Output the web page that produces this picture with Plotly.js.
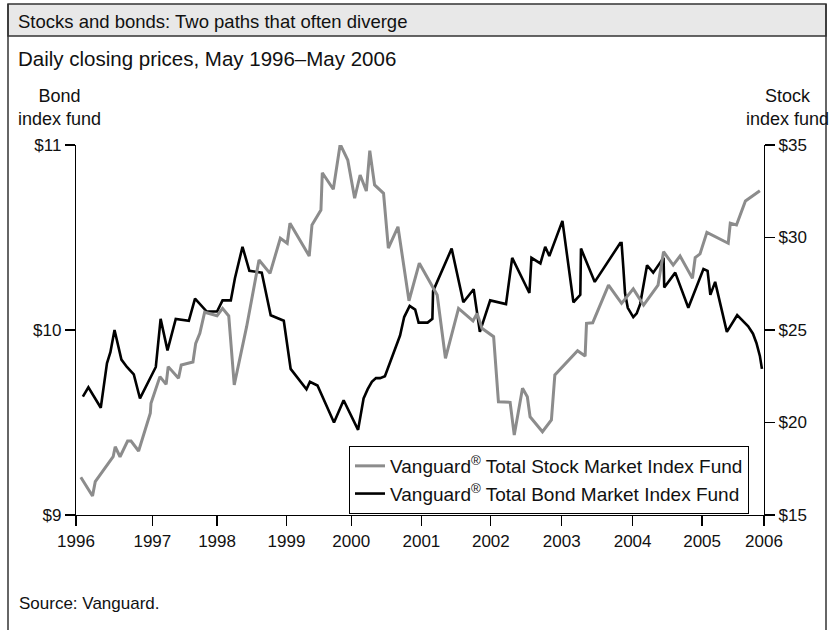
<!DOCTYPE html>
<html>
<head>
<meta charset="utf-8">
<script src="https://cdn.plot.ly/plotly-3.0.1.min.js"></script>
<style>
  html, body { margin: 0; padding: 0; background: #fff; }
  #chart { width: 833px; height: 630px; }
</style>
</head>
<body>
<div id="chart"></div>
<script>
// Stock vs bond index fund prices.
const FONT = '"Liberation Sans Narrow", "Arial Narrow", "Liberation Sans", sans-serif';

const xTickVals = [1996, 1997.11, 1998.05, 1999.06, 2000.0, 2001.02, 2002.03, 2003.06, 2004.09, 2005.10, 2006];
const xTickText = ['1996', '1997', '1998', '1999', '2000', '2001', '2002', '2003', '2004', '2005', '2006'];

const bondTickVals = [9, 10, 11];
const bondTickText = ['$9', '$10', '$11'];
const stockTickVals = [15, 20, 25, 30, 35];
const stockTickText = ['$15', '$20', '$25', '$30', '$35'];

// Vanguard Total Stock Market Index Fund (right axis)
const stockX = [
  1996.07, 1996.24, 1996.28, 1996.54, 1996.57, 1996.64, 1996.75, 1996.80, 1996.91, 1997.08,
  1997.09, 1997.18, 1997.22, 1997.31, 1997.34, 1997.49, 1997.53, 1997.70, 1997.74, 1997.80,
  1997.87, 1998.05, 1998.13, 1998.22, 1998.30, 1998.48, 1998.66, 1998.82, 1998.97, 1999.07,
  1999.11, 1999.39, 1999.43, 1999.56, 1999.58, 1999.74, 1999.84, 1999.95, 2000.05, 2000.13,
  2000.22, 2000.27, 2000.34, 2000.47, 2000.54, 2000.68, 2000.84, 2000.99, 2001.25, 2001.37,
  2001.56, 2001.77, 2001.83, 2001.90, 2002.07, 2002.14, 2002.31, 2002.37, 2002.49, 2002.56,
  2002.60, 2002.78, 2002.91, 2002.96, 2003.29, 2003.40, 2003.42, 2003.51, 2003.74, 2003.93,
  2004.10, 2004.25, 2004.46, 2004.54, 2004.68, 2004.78, 2004.96, 2005.00, 2005.07, 2005.17,
  2005.48, 2005.51, 2005.60, 2005.73, 2005.94
];
const stockY = [
  17.04, 16.03, 16.80, 18.15, 18.69, 18.15, 19.00, 19.00, 18.46, 20.50,
  21.04, 22.12, 22.48, 22.06, 23.02, 22.39, 23.11, 23.27, 24.28, 24.82,
  25.96, 25.77, 26.17, 25.76, 22.03, 25.18, 28.78, 28.06, 29.96, 29.69,
  30.77, 29.00, 30.68, 31.49, 33.50, 32.61, 35.04, 34.19, 32.12, 33.38,
  32.51, 34.69, 32.84, 32.39, 29.42, 30.58, 26.58, 28.61, 26.89, 23.47,
  26.17, 25.49, 25.90, 25.09, 24.64, 21.12, 21.09, 19.32, 21.85, 21.39,
  20.31, 19.50, 20.14, 22.57, 23.88, 23.59, 25.36, 25.39, 27.43, 26.44,
  27.22, 26.35, 27.43, 29.23, 28.51, 29.00, 27.79, 28.91, 29.11, 30.28,
  29.69, 30.77, 30.68, 31.97, 32.53
];

// Vanguard Total Bond Market Index Fund (left axis)
const bondX = [
  1996.10, 1996.18, 1996.36, 1996.45, 1996.50, 1996.56, 1996.66, 1996.74, 1996.84, 1996.93,
  1997.16, 1997.23, 1997.33, 1997.45, 1997.64, 1997.73, 1997.90, 1998.05, 1998.13, 1998.25,
  1998.31, 1998.42, 1998.52, 1998.70, 1998.83, 1999.02, 1999.12, 1999.35, 1999.40, 1999.51,
  1999.75, 1999.89, 2000.10, 2000.18, 2000.24, 2000.30, 2000.36, 2000.42, 2000.49, 2000.71,
  2000.77, 2000.85, 2000.93, 2000.98, 2001.11, 2001.18, 2001.19, 2001.46, 2001.63, 2001.78,
  2001.87, 2002.02, 2002.25, 2002.34, 2002.59, 2002.62, 2002.75, 2002.82, 2002.88, 2003.07,
  2003.23, 2003.33, 2003.34, 2003.54, 2003.91, 2003.93, 2003.955, 2003.98, 2004.02, 2004.10,
  2004.15, 2004.20, 2004.30, 2004.39, 2004.54, 2004.55, 2004.71, 2004.90, 2005.12, 2005.18,
  2005.22, 2005.29, 2005.46, 2005.61, 2005.77, 2005.84, 2005.89, 2005.94, 2005.97
];
const bondY = [
  9.64, 9.69, 9.58, 9.82, 9.88, 10.00, 9.84, 9.80, 9.76, 9.63,
  9.80, 10.06, 9.89, 10.06, 10.05, 10.17, 10.10, 10.10, 10.16, 10.16,
  10.28, 10.45, 10.32, 10.31, 10.08, 10.05, 9.79, 9.68, 9.72, 9.70,
  9.50, 9.62, 9.46, 9.63, 9.68, 9.72, 9.74, 9.74, 9.75, 9.97,
  10.07, 10.13, 10.11, 10.04, 10.04, 10.06, 10.21, 10.44, 10.15, 10.22,
  9.99, 10.16, 10.14, 10.39, 10.20, 10.39, 10.36, 10.45, 10.40, 10.59,
  10.15, 10.19, 10.44, 10.26, 10.47, 10.47, 10.34, 10.20, 10.12, 10.07,
  10.09, 10.14, 10.35, 10.31, 10.39, 10.23, 10.31, 10.12, 10.33, 10.32,
  10.19, 10.26, 9.99, 10.08, 10.02, 9.98, 9.93, 9.86, 9.79
];

const W = 833, H = 630;
const M = { l: 76, r: 69, t: 145, b: 115 };
// pixel -> paper helpers for the frame and free text
const px = (x) => (x - M.l) / (W - M.l - M.r);
const py = (y) => (H - M.b - y) / (H - M.t - M.b);

const traces = [
  {
    x: stockX, y: stockY, yaxis: 'y2', mode: 'lines',
    name: 'Vanguard<sup>®</sup> Total Stock Market Index Fund',
    line: { color: '#8c8c8c', width: 3 },
  },
  {
    x: bondX, y: bondY, yaxis: 'y', mode: 'lines',
    name: 'Vanguard<sup>®</sup> Total Bond Market Index Fund',
    line: { color: '#000000', width: 2.6 },
  },
];

const axisCommon = {
  showline: true, linecolor: '#000', linewidth: 1.2,
  ticks: 'outside', tickcolor: '#000', tickwidth: 1.2,
  showgrid: false, zeroline: false, fixedrange: true,
  tickfont: { family: FONT, size: 17, color: '#111' },
};

const layout = {
  width: W, height: H,
  margin: M,
  paper_bgcolor: '#fff', plot_bgcolor: '#fff',
  font: { family: FONT, color: '#111' },
  xaxis: Object.assign({}, axisCommon, {
    range: [1996, 2006], tickvals: xTickVals, ticktext: xTickText, ticklen: 10,
  }),
  yaxis: Object.assign({}, axisCommon, {
    range: [9, 11], tickvals: bondTickVals, ticktext: bondTickText, ticklen: 10,
  }),
  yaxis2: Object.assign({}, axisCommon, {
    range: [15, 35], tickvals: stockTickVals, ticktext: stockTickText, ticklen: 10,
    overlaying: 'y', side: 'right',
  }),
  showlegend: true,
  legend: {
    x: px(349), y: py(446), xanchor: 'left', yanchor: 'top',
    bgcolor: '#fff', bordercolor: '#000', borderwidth: 1,
    font: { family: FONT, size: 19, color: '#111' },
    itemwidth: 30, tracegroupgap: 0,
  },
  shapes: [
    // title band
    { type: 'rect', xref: 'paper', yref: 'paper', x0: px(8), x1: px(826), y0: py(36), y1: py(4),
      fillcolor: '#e8e8e8', line: { color: '#333', width: 1.5 }, layer: 'below' },
    // outer frame sides
    { type: 'line', xref: 'paper', yref: 'paper', x0: px(8), x1: px(8), y0: py(4), y1: py(632),
      line: { color: '#333', width: 1.5 } },
    { type: 'line', xref: 'paper', yref: 'paper', x0: px(826), x1: px(826), y0: py(4), y1: py(632),
      line: { color: '#333', width: 1.5 } },
  ],
  annotations: [
    { text: 'Stocks and bonds: Two paths that often diverge', xref: 'paper', yref: 'paper',
      x: px(16), y: py(21), xanchor: 'left', yanchor: 'middle', showarrow: false,
      font: { family: FONT, size: 18.5, color: '#111' } },
    { text: 'Daily closing prices, May 1996–May 2006', xref: 'paper', yref: 'paper',
      x: px(16), y: py(59), xanchor: 'left', yanchor: 'middle', showarrow: false,
      font: { family: FONT, size: 20.5, color: '#111' } },
    { text: 'Bond<br>index fund', xref: 'paper', yref: 'paper',
      x: px(59), y: py(108), xanchor: 'center', yanchor: 'middle', showarrow: false,
      font: { family: FONT, size: 18, color: '#111' } },
    { text: 'Stock<br>index fund', xref: 'paper', yref: 'paper',
      x: px(787), y: py(108), xanchor: 'center', yanchor: 'middle', showarrow: false,
      font: { family: FONT, size: 18, color: '#111' } },
    { text: 'Source: Vanguard.', xref: 'paper', yref: 'paper',
      x: px(17), y: py(603), xanchor: 'left', yanchor: 'middle', showarrow: false,
      font: { family: FONT, size: 17, color: '#111' } },
  ],
};

Plotly.newPlot('chart', traces, layout, { displayModeBar: false, staticPlot: true });
</script>
</body>
</html>
